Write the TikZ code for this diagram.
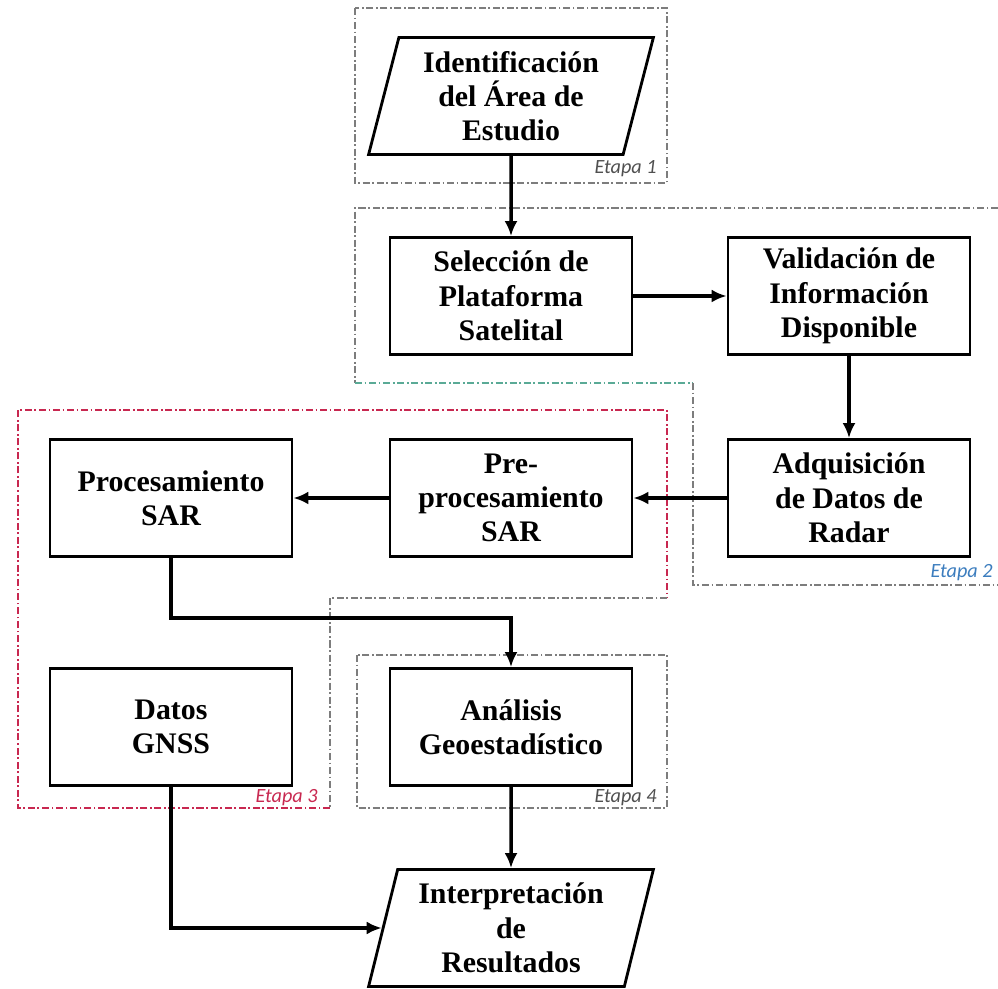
\documentclass[tikz,border=0pt]{standalone}
\usepackage{fontspec}
\setmainfont{Liberation Serif}
\newfontfamily\etapafont{Carlito}
\usetikzlibrary{shapes.geometric,arrows.meta}

\definecolor{grismarco}{RGB}{125,125,125}
\definecolor{rojoetapa}{RGB}{200,40,80}
\definecolor{azuletapa}{RGB}{60,125,190}
\definecolor{verdemarco}{RGB}{90,170,150}
\definecolor{grisetapa}{RGB}{80,80,80}

\tikzset{
    caja/.style={draw, line width=1.6pt, minimum width=4.84cm, minimum height=2.34cm,
        align=center, font=\fontsize{17}{19.5}\selectfont\bfseries},
    datos/.style={caja, trapezium, trapezium left angle=76, trapezium right angle=104,
        trapezium stretches=true, minimum width=5.7cm},
    flecha/.style={-{Latex[length=3mm,width=2.6mm]}, line width=2pt},
    marco/.style={line width=0.8pt, dash pattern=on 4pt off 1.5pt on 1pt off 1.5pt},
    etapa/.style={font=\etapafont\fontsize{11.5}{13}\selectfont\itshape, inner sep=0pt}
}

\begin{document}
\begin{tikzpicture}[x=0.02cm, y=-0.02cm]
    \useasboundingbox (0,0) rectangle (998,989);

    % etapas
    \draw [marco, grismarco] (355,8) rectangle (667,183);
    \draw [marco, grismarco] (998,208) -- (355,208) -- (355,383);
    \draw [marco, verdemarco] (355,383) -- (693,383);
    \draw [marco, grismarco] (693,383) -- (693,585) -- (998,585);
    \draw [marco, rojoetapa] (330,808) -- (18,808) -- (18,410) -- (667,410) -- (667,598);
    \draw [marco, grismarco] (667,598) -- (330,598) -- (330,808);
    \draw [marco, grismarco] (357,655) rectangle (667,808);

    \node [etapa, grisetapa, anchor=east] (etapa1) at (657,169) {Etapa 1};
    \node [etapa, azuletapa, anchor=east] (etapa2) at (993,573) {Etapa 2};
    \node [etapa, rojoetapa, anchor=east] (etapa3) at (318,798) {Etapa 3};
    \node [etapa, grisetapa, anchor=east] (etapa4) at (657,798) {Etapa 4};

    % bloques
    \node [datos] (idarea) at (511,96) {Identificación\\del Área de\\Estudio};
    \node [caja] (seleccion) at (511,296) {Selección de\\Plataforma\\Satelital};
    \node [caja] (validacion) at (849,296) {Validación de\\Información\\Disponible};
    \node [caja] (adquisicion) at (849,498) {Adquisición\\de Datos de\\Radar};
    \node [caja] (preproc) at (511,498) {Pre-\\procesamiento\\SAR};
    \node [caja] (proc) at (171,498) {Procesamiento\\SAR};
    \node [caja] (gnss) at (171,727) {Datos\\GNSS};
    \node [caja] (analisis) at (511,727) {Análisis\\Geoestadístico};
    \node [datos] (interp) at (511,928) {Interpretación\\de\\Resultados};

    \path (idarea) edge [flecha] (seleccion);
    \path (seleccion) edge [flecha] (validacion);
    \path (validacion) edge [flecha] (adquisicion);
    \path (adquisicion) edge [flecha] (preproc);
    \path (preproc) edge [flecha] (proc);
    \draw [flecha] (proc.south) -- ++(0,60) -| (analisis.north);
    \path (analisis) edge [flecha] (interp);
    \draw [flecha] (gnss.south) |- (interp.west);
\end{tikzpicture}
\end{document}
